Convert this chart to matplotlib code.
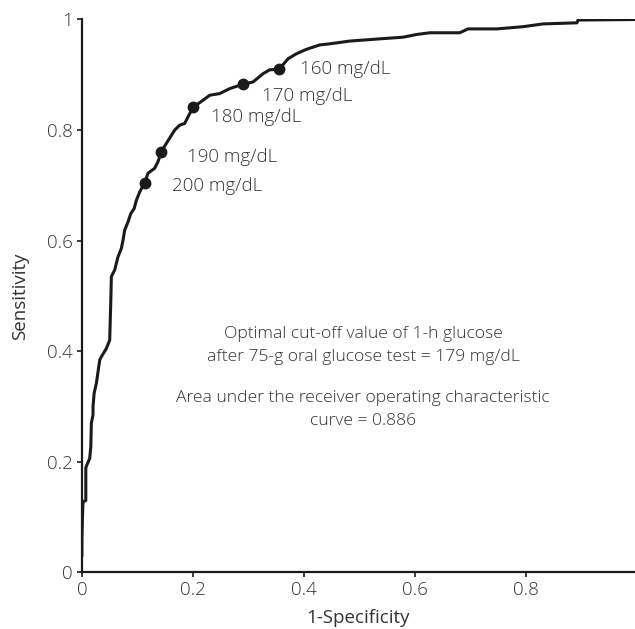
import matplotlib
matplotlib.use("Agg")
import matplotlib.pyplot as plt

plt.rcParams['font.family'] = ['Open Sans', 'DejaVu Sans']
plt.rcParams['font.weight'] = 'light'

# ROC curve trace (1-specificity, sensitivity)
fpr = [0.0, 0.0, 0.001, 0.002, 0.002, 0.007, 0.007, 0.010, 0.014, 0.016, 0.017,
       0.020, 0.020, 0.022, 0.026, 0.032, 0.035, 0.044, 0.050, 0.052, 0.053,
       0.059, 0.065, 0.071, 0.074, 0.077, 0.083, 0.088, 0.094, 0.098, 0.104,
       0.113, 0.119, 0.131, 0.137, 0.143, 0.152, 0.167, 0.176, 0.185, 0.191,
       0.200, 0.218, 0.230, 0.248, 0.266, 0.290, 0.308, 0.326, 0.338, 0.355,
       0.371, 0.386, 0.404, 0.428, 0.446, 0.482, 0.536, 0.578, 0.603, 0.626,
       0.680, 0.695, 0.747, 0.794, 0.830, 0.891, 0.893, 1.0]
tpr = [0.031, 0.06, 0.10, 0.128, 0.128, 0.13, 0.189, 0.197, 0.206, 0.227, 0.27,
       0.285, 0.30, 0.324, 0.342, 0.384, 0.390, 0.405, 0.420, 0.492, 0.535,
       0.547, 0.571, 0.586, 0.601, 0.619, 0.634, 0.649, 0.658, 0.673, 0.688,
       0.705, 0.722, 0.731, 0.743, 0.761, 0.776, 0.800, 0.809, 0.812, 0.824,
       0.841, 0.854, 0.863, 0.866, 0.875, 0.883, 0.887, 0.902, 0.909, 0.910,
       0.929, 0.938, 0.946, 0.954, 0.956, 0.961, 0.965, 0.968, 0.973, 0.976,
       0.976, 0.983, 0.983, 0.987, 0.992, 0.994, 0.999, 1.0]

# Cut-off points
cut_labels = ["200 mg/dL", "190 mg/dL", "180 mg/dL", "170 mg/dL", "160 mg/dL"]
cut_fpr = [0.113, 0.143, 0.200, 0.290, 0.355]
cut_tpr = [0.705, 0.761, 0.841, 0.883, 0.910]
label_x = [0.163, 0.189, 0.232, 0.324, 0.392]
label_y = [0.698, 0.752, 0.823, 0.862, 0.910]

xticks = [0, 0.2, 0.4, 0.6, 0.8]
yticks = [0, 0.2, 0.4, 0.6, 0.8, 1]

FS = 13.5
FS_NOTE = 12.6
TC = '#333333'

fig = plt.figure(figsize=(6.35, 6.29), dpi=100)
ax = fig.add_axes([0.129, 0.090, 0.871, 0.879])

ax.plot(fpr, tpr, color='#1a1a1a', lw=2.2, solid_joinstyle='round', clip_on=True)
ax.plot(cut_fpr, cut_tpr, 'o', color='#1a1a1a', ms=7.5)
for lab, lx, ly in zip(cut_labels, label_x, label_y):
    ax.text(lx, ly, lab, fontsize=FS, color=TC, va='center', ha='left')

ax.text(0.506, 0.431, "Optimal cut-off value of 1-h glucose", fontsize=FS_NOTE,
        color=TC, ha='center', va='center')
ax.text(0.506, 0.390, "after 75-g oral glucose test = 179 mg/dL", fontsize=FS_NOTE,
        color=TC, ha='center', va='center')
ax.text(0.506, 0.315, "Area under the receiver operating characteristic", fontsize=FS_NOTE,
        color=TC, ha='center', va='center')
ax.text(0.506, 0.274, "curve = 0.886", fontsize=FS_NOTE,
        color=TC, ha='center', va='center')

ax.set_xlim(0, 0.9955)
ax.set_ylim(0, 1)
ax.set_xticks(xticks)
ax.set_xticklabels(["0", "0.2", "0.4", "0.6", "0.8"])
ax.set_yticks(yticks)
ax.set_yticklabels(["0", "0.2", "0.4", "0.6", "0.8", "1"])
for s in ['top', 'right']:
    ax.spines[s].set_visible(False)
for s in ['left', 'bottom']:
    ax.spines[s].set_linewidth(1.6)
    ax.spines[s].set_color('#1a1a1a')
ax.tick_params(direction='out', length=3.5, width=1.2, labelsize=FS,
               labelcolor=TC, color='#1a1a1a', pad=3)
ax.set_xlabel("1-Specificity", fontsize=FS, color=TC, labelpad=7)
ax.set_ylabel("Sensitivity", fontsize=FS, color=TC, labelpad=13)

fig.savefig("out.png", dpi=100)
